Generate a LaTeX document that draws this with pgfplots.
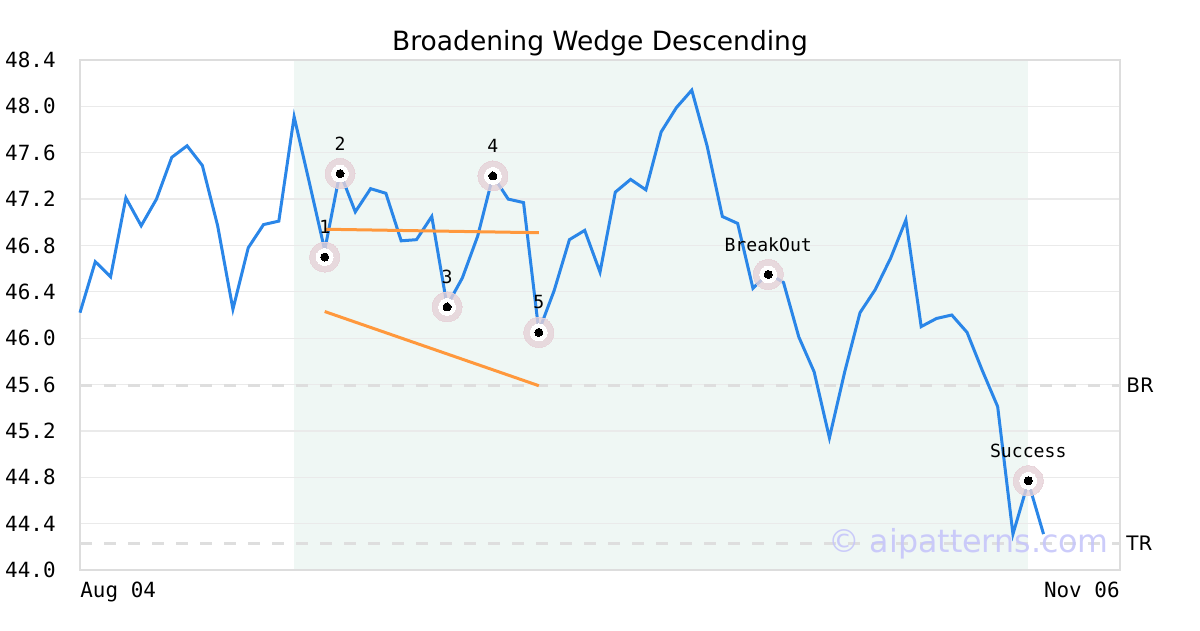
\documentclass[border=0pt]{standalone}
\usepackage{pgfplots}
\pgfplotsset{compat=1.18}
\usepackage{fontspec}
\setmainfont{DejaVu Sans}
\newfontfamily\mono{DejaVu Sans Mono}
\definecolor{lineblue}{RGB}{42,134,232}
\definecolor{wedge}{RGB}{255,152,60}
\definecolor{shade}{RGB}{239,247,244}
\definecolor{gridc}{RGB}{234,234,234}
\definecolor{framec}{RGB}{221,221,221}
\definecolor{halo}{RGB}{230,210,216}
\definecolor{wm}{RGB}{198,198,250}
\definecolor{dashc}{RGB}{222,222,222}
\begin{document}
\begin{tikzpicture}
\begin{axis}[
  name=ax, set layers,
  scale only axis, width=520bp, height=255bp,
  xmin=0, xmax=68, ymin=44, ymax=48.4,
  clip=false,
  ytick={44,44.4,44.8,45.2,45.6,46,46.4,46.8,47.2,47.6,48,48.4},
  yticklabels={44.0,44.4,44.8,45.2,45.6,46.0,46.4,46.8,47.2,47.6,48.0,48.4},
  yticklabel style={font=\mono\fontsize{10.5}{12}\selectfont, anchor=east, inner sep=0pt, xshift=-12bp},
  xtick={0}, xticklabels={Aug 04},
  xticklabel style={font=\mono\fontsize{10.5}{12}\selectfont, anchor=north west, inner sep=0pt, yshift=-6bp},
  extra x ticks={68}, extra x tick labels={Nov 06},
  extra x tick style={xticklabel style={anchor=north east}},
  tick style={draw=none},
  ymajorgrids, grid style={gridc, line width=0.6bp},
  axis line style={framec, line width=1.2bp},
  title={Broadening Wedge Descending},
  title style={font=\fontsize{13.3}{15}\selectfont, anchor=base, at={(0.5,1)}, yshift=-1bp},
]
% shaded pattern region
\addplot [fill=shade, draw=none, on layer=axis background] coordinates {(14,44) (14,48.4) (62,48.4) (62,44)} -- cycle;
% BR / TR dashed lines
\addplot [dashc, line width=1.5bp, dash pattern=on 6bp off 6bp] coordinates {(0,45.59) (68,45.59)};
\addplot [dashc, line width=1.5bp, dash pattern=on 6bp off 6bp] coordinates {(0,44.23) (68,44.23)};
% price line
\addplot [lineblue, line width=1.5bp] coordinates {
(0,46.22) (1,46.66) (2,46.53) (3,47.21) (4,46.97) (5,47.20) (6,47.56) (7,47.66) (8,47.49) (9,46.97)
(10,46.25) (11,46.78) (12,46.98) (13,47.01) (14,47.91) (15,47.34) (16,46.76) (17,47.43) (18,47.09) (19,47.29)
(20,47.25) (21,46.84) (22,46.85) (23,47.05) (24,46.28) (25,46.52) (26,46.88) (27,47.40) (28,47.20) (29,47.17)
(30,46.06) (31,46.41) (32,46.85) (33,46.93) (34,46.57) (35,47.26) (36,47.37) (37,47.28) (38,47.78) (39,47.99)
(40,48.14) (41,47.66) (42,47.05) (43,46.99) (44,46.43) (45,46.56) (46,46.48) (47,46.01) (48,45.71) (49,45.14)
(50,45.71) (51,46.22) (52,46.42) (53,46.69) (54,47.02) (55,46.10) (56,46.17) (57,46.20) (58,46.05) (59,45.72)
(60,45.41) (61,44.31) (62,44.76) (63,44.31)
};
% wedge lines
\addplot [wedge, line width=1.5bp] coordinates {(16,46.94) (30,46.91)};
\addplot [wedge, line width=1.5bp] coordinates {(16,46.23) (30,45.59)};
% markers
\addplot [only marks, mark=*, mark size=7.5bp, mark options={fill=halo, draw=halo, line width=0pt, opacity=0.8}] coordinates {
(16,46.70) (17,47.42) (24,46.27) (27,47.40) (30,46.05) (45,46.55) (62,44.77)};
\addplot [only marks, mark=*, mark size=4.2bp, mark options={fill=white, draw=white, line width=0pt}] coordinates {
(16,46.70) (17,47.42) (24,46.27) (27,47.40) (30,46.05) (45,46.55) (62,44.77)};
\addplot [only marks, mark=*, mark size=2bp, mark options={fill=black, draw=black, line width=0pt},
  point meta=explicit symbolic, nodes near coords,
  every node near coord/.append style={font=\mono\fontsize{9.1}{11}\selectfont, anchor=base, yshift=11.7bp, inner sep=0pt, text=black}] coordinates {
(16,46.70) [1] (17,47.42) [2] (24,46.27) [3] (27,47.40) [4] (30,46.05) [5] (45,46.55) [BreakOut] (62,44.77) [Success]};
% side labels
\node [anchor=west, font=\fontsize{10}{12}\selectfont, inner sep=0pt, xshift=3bp] at (axis cs:68,45.59) {BR};
\node [anchor=west, font=\fontsize{10}{12}\selectfont, inner sep=0pt, xshift=3bp] at (axis cs:68,44.23) {TR};
% watermark
\node [anchor=base west, inner sep=0pt, font=\fontsize{15.9}{18}\selectfont, text=wm, text opacity=0.9] at (rel axis cs:0.719,0.035) {© aipatterns.com};
\end{axis}
\pgfresetboundingbox
\path[use as bounding box] ([shift={(-40bp,-30bp)}]ax.south west) rectangle ([shift={(40bp,30bp)}]ax.north east);
\end{tikzpicture}
\end{document}
